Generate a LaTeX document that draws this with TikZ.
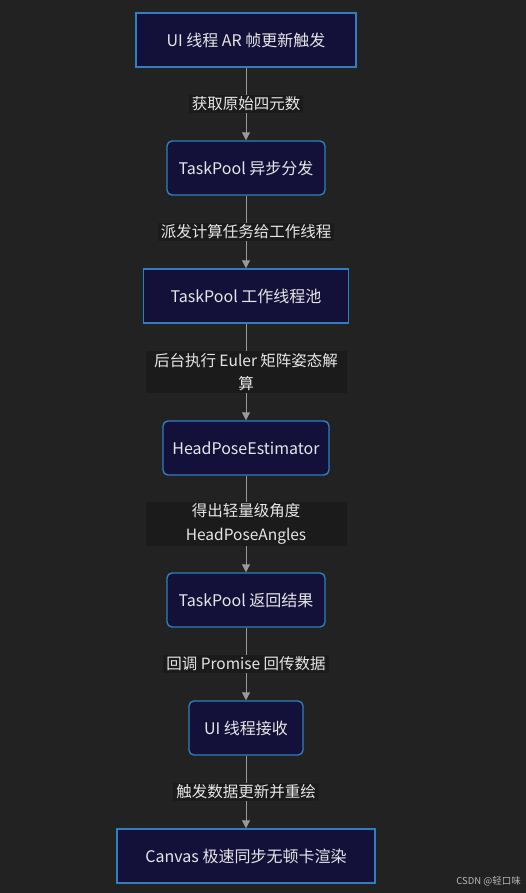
\documentclass[tikz,border=0pt]{standalone}
\usepackage{fontspec}
\setmainfont{Noto Sans CJK SC}
\usetikzlibrary{arrows.meta}
\definecolor{bg}{HTML}{222222}
\definecolor{nodefill}{HTML}{13113A}
\definecolor{nodeborder}{HTML}{2F7EC0}
\definecolor{lblfill}{HTML}{1B1B1B}
\definecolor{edgecol}{HTML}{9A9A9A}
\definecolor{txt}{HTML}{E6E6E6}
\definecolor{wm}{HTML}{B8B8B8}
\begin{document}
\begin{tikzpicture}[x=1pt,y=-1pt,
  box/.style={draw=nodeborder, fill=nodefill, line width=1.4pt, text=txt,
    font=\fontsize{16}{19}\selectfont, minimum height=54pt, inner sep=0pt},
  sqbox/.style={box},
  rdbox/.style={box, rounded corners=5pt},
  lbl/.style={fill=lblfill, text=txt, font=\fontsize{15.5}{23.5}\selectfont,
    inner xsep=3pt, inner ysep=2pt, align=center},
  arr/.style={draw=edgecol, line width=1pt, -{Triangle[width=8pt,length=8pt]}}
]
\fill[bg] (0,0) rectangle (526,893);
\useasboundingbox (0,0) rectangle (526,893);

\node[sqbox, minimum width=220pt] (n1) at (246,40) {UI 线程 AR 帧更新触发};
\node[rdbox, minimum width=158pt] (n2) at (246,168) {TaskPool 异步分发};
\node[sqbox, minimum width=205pt] (n3) at (246,296) {TaskPool 工作线程池};
\node[rdbox, minimum width=166pt] (n4) at (246,448) {HeadPoseEstimator};
\node[rdbox, minimum width=158pt] (n5) at (246,600) {TaskPool 返回结果};
\node[rdbox, minimum width=114pt] (n6) at (246,728) {UI 线程接收};
\node[sqbox, minimum width=258pt] (n7) at (246,856) {Canvas 极速同步无顿卡渲染};

\draw[arr] (n1) -- node[lbl] {获取原始四元数} (n2);
\draw[arr] (n2) -- node[lbl] {派发计算任务给工作线程} (n3);
\draw[arr] (n3) -- node[lbl, minimum width=201pt] {后台执行 Euler 矩阵姿态解\\算} (n4);
\draw[arr] (n4) -- node[lbl, minimum width=201pt] {得出轻量级角度\\HeadPoseAngles} (n5);
\draw[arr] (n5) -- node[lbl] {回调 Promise 回传数据} (n6);
\draw[arr] (n6) -- node[lbl] {触发数据更新并重绘} (n7);

\node[text=wm, font=\fontsize{9.5}{11}\selectfont, anchor=east, inner sep=0pt] (wmk) at (521,881) {CSDN @轻口味};
\end{tikzpicture}
\end{document}
